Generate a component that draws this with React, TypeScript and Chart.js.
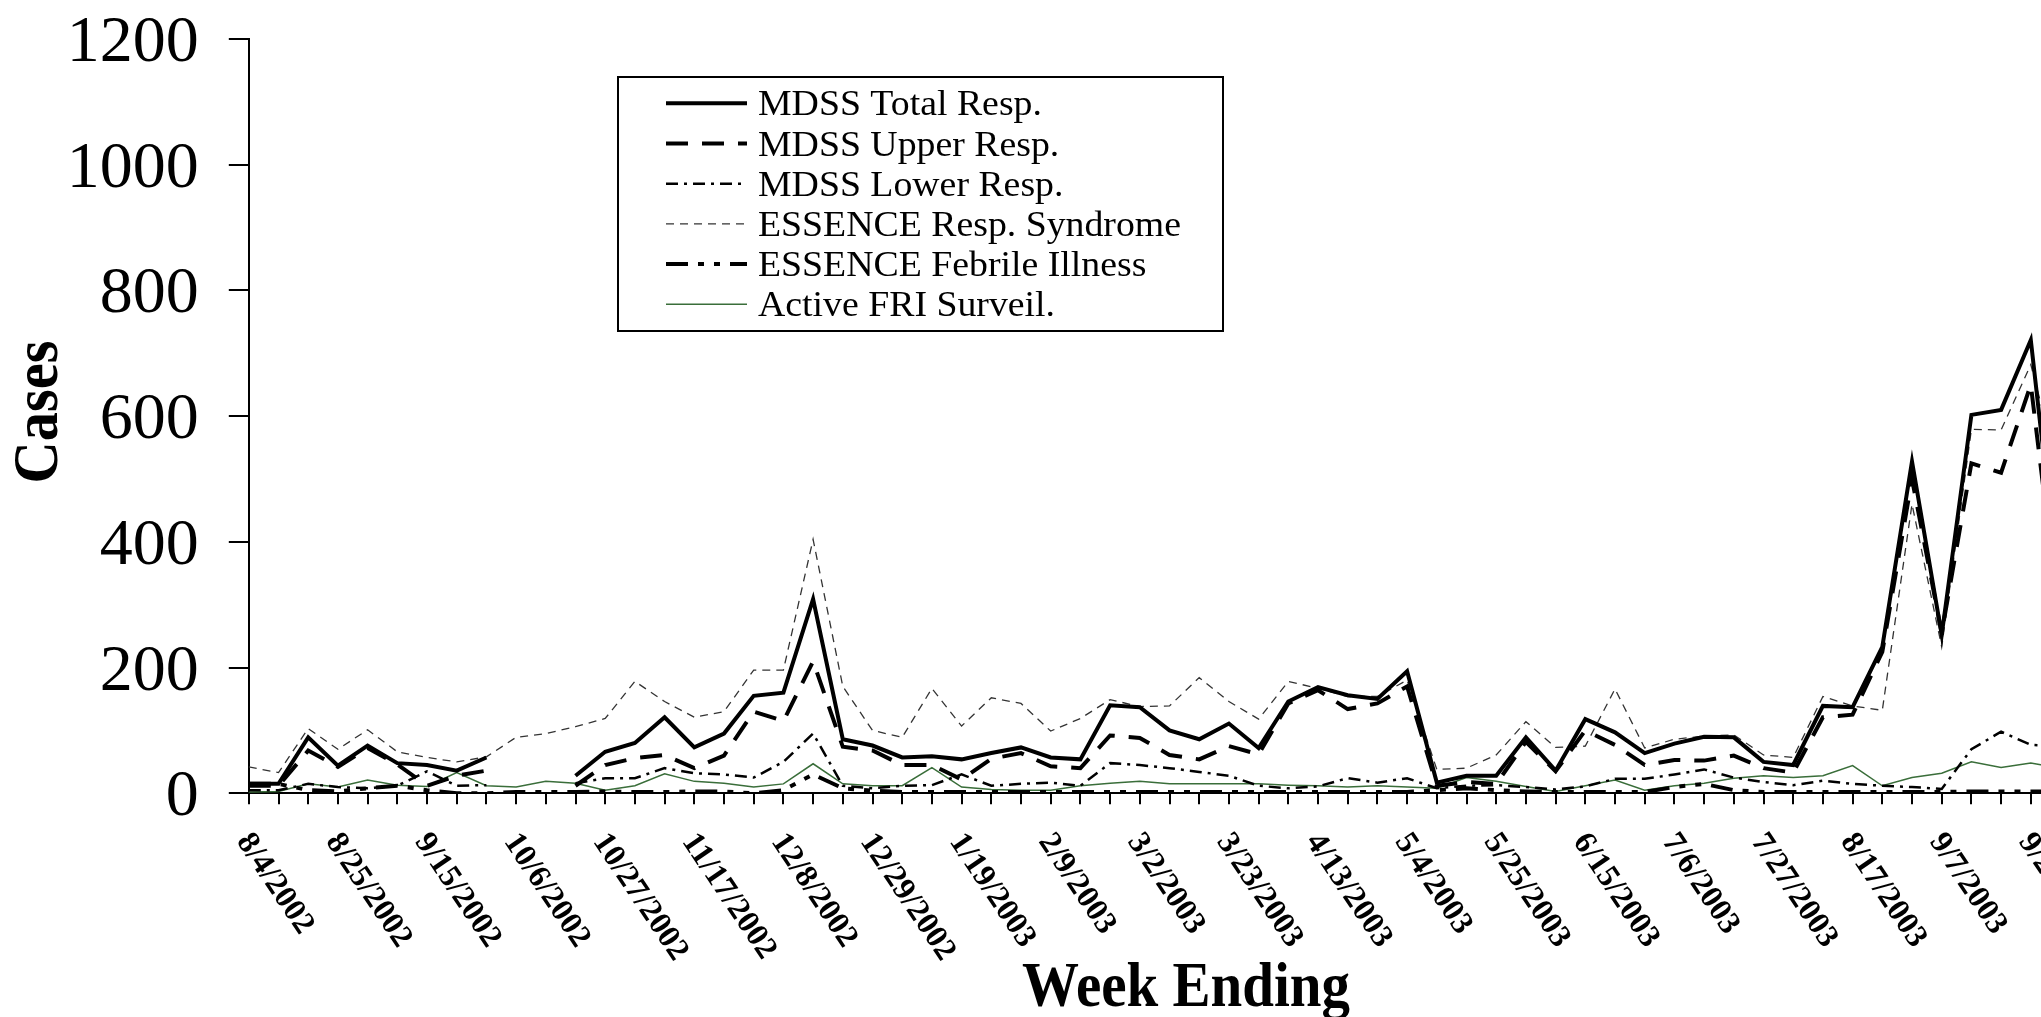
import React, { useEffect, useRef } from 'react';
import { Chart, registerables } from 'chart.js';

Chart.register(...registerables);

const weekLabels = [
  '8/4/2002', '8/11/2002', '8/18/2002', '8/25/2002', '9/1/2002', '9/8/2002', '9/15/2002', '9/22/2002',
  '9/29/2002', '10/6/2002', '10/13/2002', '10/20/2002', '10/27/2002', '11/3/2002', '11/10/2002', '11/17/2002',
  '11/24/2002', '12/1/2002', '12/8/2002', '12/15/2002', '12/22/2002', '12/29/2002', '1/5/2003', '1/12/2003',
  '1/19/2003', '1/26/2003', '2/2/2003', '2/9/2003', '2/16/2003', '2/23/2003', '3/2/2003', '3/9/2003',
  '3/16/2003', '3/23/2003', '3/30/2003', '4/6/2003', '4/13/2003', '4/20/2003', '4/27/2003', '5/4/2003',
  '5/11/2003', '5/18/2003', '5/25/2003', '6/1/2003', '6/8/2003', '6/15/2003', '6/22/2003', '6/29/2003',
  '7/6/2003', '7/13/2003', '7/20/2003', '7/27/2003', '8/3/2003', '8/10/2003', '8/17/2003', '8/24/2003',
  '8/31/2003', '9/7/2003', '9/14/2003', '9/21/2003', '9/28/2003', '10/5/2003',
];

const mdssTotal = [
  15, 15, 89, 44, 76, 48, 45, 36, 57, null, null, 28, 66, 80, 121, 73,
  95, 155, 160, 309, 86, 76, 57, 59, 54, 64, 73, 57, 54, 140, 137, 100,
  86, 111, 72, 146, 169, 156, 150, 194, 17, 28, 28, 89, 36, 118, 97, 64,
  79, 90, 89, 50, 45, 139, 137, 233, 528, 252, 602, 610, 721, 300,
];

const mdssUpper = [
  12, 12, 68, 42, 72, 46, 12, 28, 36, null, null, 12, 45, 56, 61, 40,
  60, 130, 115, 210, 74, 68, 45, 45, 22, 55, 64, 43, 40, 92, 88, 61,
  54, 75, 62, 143, 164, 134, 143, 170, 12, 18, 15, 82, 35, 100, 77, 45,
  53, 52, 60, 40, 33, 121, 125, 225, 500, 255, 525, 510, 650, 260,
];

const mdssLower = [
  5, 5, 15, 10, 8, 12, 35, 12, 13, null, null, 16, 24, 24, 40, 32,
  30, 25, 50, 95, 12, 8, 12, 13, 30, 12, 15, 17, 12, 48, 45, 40,
  34, 28, 12, 8, 11, 24, 17, 24, 8, 12, 13, 10, 6, 11, 23, 23,
  30, 38, 25, 18, 13, 20, 15, 12, 10, 7, 70, 98, 77, 75,
];

const essenceResp = [
  42, 33, 103, 70, 101, 66, 57, 50, 58, 89, 95, 106, 119, 178, 146, 121,
  130, 196, 196, 404, 170, 100, 89, 167, 107, 152, 143, 99, 119, 149, 138, 139,
  184, 146, 118, 178, 167, 154, 154, 180, 38, 40, 61, 114, 73, 75, 166, 72,
  86, 91, 93, 61, 57, 154, 139, 132, 460, 233, 579, 578, 682, 500,
];

const essenceFebrile = [
  15, 15, 5, 3, 8, 12, 5, 0, 0, 2, 2, 2, 3, 2, 2, 3,
  3, 0, 5, 30, 8, 4, 2, 2, 2, 2, 2, 2, 2, 2, 2, 2,
  2, 2, 2, 2, 2, 2, 2, 2, 5, 8, 5, 3, 2, 2, 2, 2,
  10, 15, 5, 2, 2, 2, 2, 2, 2, 2, 3, 3, 3, 3,
];

const activeFri = [
  2, 3, 15, 10, 21, 13, 11, 33, 12, 10, 19, 16, 5, 12, 31, 19,
  16, 10, 15, 47, 15, 12, 12, 41, 10, 6, 5, 5, 12, 16, 19, 15,
  15, 15, 15, 13, 12, 10, 12, 10, 8, 25, 19, 11, 3, 12, 21, 5,
  12, 16, 24, 28, 25, 28, 44, 12, 25, 32, 50, 41, 48, 40,
];

const yTicks = [0, 200, 400, 600, 800, 1000, 1200];

const SERIF = '"Liberation Serif", "Times New Roman", serif';

type Series = { label: string; data: (number | null)[]; color: string; width: number; dash: number[] };

const SERIES: Series[] = [
  { label: 'MDSS Total Resp.', data: mdssTotal, color: '#000000', width: 4, dash: [] },
  { label: 'MDSS Upper Resp.', data: mdssUpper, color: '#000000', width: 4, dash: [22, 14] },
  { label: 'MDSS Lower Resp.', data: mdssLower, color: '#000000', width: 2.5, dash: [12, 6, 3, 6] },
  { label: 'ESSENCE Resp. Syndrome', data: essenceResp, color: '#333333', width: 1.3, dash: [8, 6] },
  { label: 'ESSENCE Febrile Illness', data: essenceFebrile, color: '#000000', width: 4, dash: [22, 10, 6, 10, 6, 10] },
  { label: 'Active FRI Surveil.', data: activeFri, color: '#3a6e3a', width: 1.5, dash: [] },
];

const CANVAS_W = 2100;
const CANVAS_H = 1017;
const AREA_LEFT = 248.8;
const AREA_TOP = 39;
const AREA_BOTTOM = 793.3;
const STEP = 29.7;

export default function App() {
  const ref = useRef<HTMLCanvasElement>(null);

  useEffect(() => {
    document.body.style.margin = '0';
    const canvas = ref.current;
    if (!canvas) return;

    const areaRight = AREA_LEFT + STEP * (weekLabels.length - 1);

    const overlay = {
      id: 'overlay',
      afterDraw(chart: any) {
        const ctx: CanvasRenderingContext2D = chart.ctx;
        const xs = chart.scales.x;
        const ys = chart.scales.y;
        const area = chart.chartArea;
        ctx.save();
        ctx.fillStyle = '#000';

        // y tick labels
        ctx.font = `66px ${SERIF}`;
        ctx.textAlign = 'right';
        ctx.textBaseline = 'alphabetic';
        for (const v of yTicks) {
          const y = ys.getPixelForValue(v);
          ctx.fillText(String(v), area.left - 50, y + 22);
        }

        // rotated week labels
        ctx.font = `bold 32px ${SERIF}`;
        ctx.textAlign = 'left';
        ctx.textBaseline = 'top';
        for (let i = 0; i < weekLabels.length; i += 3) {
          const x = xs.getPixelForValue(i);
          ctx.save();
          ctx.translate(x + 7.4, area.bottom + 34.5);
          ctx.rotate((56 * Math.PI) / 180);
          ctx.fillText(weekLabels[i], 0, 0);
          ctx.restore();
        }

        // axis titles
        ctx.font = `bold 64px ${SERIF}`;
        ctx.textAlign = 'center';
        ctx.textBaseline = 'alphabetic';
        const wt = 'Week Ending';
        const ww = ctx.measureText(wt).width;
        ctx.save();
        ctx.translate(1186, 1006);
        ctx.scale(328 / ww, 1);
        ctx.fillText(wt, 0, 0);
        ctx.restore();

        const ct = 'Cases';
        const cw = ctx.measureText(ct).width;
        ctx.save();
        ctx.translate(57, 412);
        ctx.rotate(-Math.PI / 2);
        ctx.scale(143 / cw, 1);
        ctx.fillText(ct, 0, 0);
        ctx.restore();

        // legend box
        const bx = 617, by = 76, bw = 607, bh = 256;
        ctx.fillStyle = '#fff';
        ctx.fillRect(bx, by, bw, bh);
        ctx.lineWidth = 2;
        ctx.strokeStyle = '#000';
        ctx.setLineDash([]);
        ctx.strokeRect(bx + 1, by + 1, bw - 2, bh - 2);

        ctx.font = `36px ${SERIF}`;
        ctx.textAlign = 'left';
        ctx.textBaseline = 'alphabetic';
        const longest = ctx.measureText('ESSENCE Resp. Syndrome').width;
        const sx = 423 / longest;
        SERIES.forEach((s, r) => {
          const y = 103.3 + r * 40.2;
          ctx.save();
          ctx.beginPath();
          ctx.setLineDash(s.dash);
          ctx.lineWidth = s.width;
          ctx.strokeStyle = s.color;
          ctx.moveTo(666, y);
          ctx.lineTo(747, y);
          ctx.stroke();
          ctx.restore();
          ctx.save();
          ctx.fillStyle = '#000';
          ctx.translate(758, y + 12);
          ctx.scale(sx, 1);
          ctx.fillText(s.label, 0, 0);
          ctx.restore();
        });

        ctx.restore();
      },
    };

    const chart = new Chart(canvas, {
      type: 'line',
      data: {
        labels: weekLabels,
        datasets: SERIES.map((s) => ({
          label: s.label,
          data: s.data,
          borderColor: s.color,
          backgroundColor: s.color,
          borderWidth: s.width,
          borderDash: s.dash,
          pointRadius: 0,
          pointHoverRadius: 0,
          tension: 0,
          fill: false,
          spanGaps: false,
        })),
      },
      options: {
        animation: false,
        responsive: false,
        maintainAspectRatio: false,
        events: [],
        layout: {
          padding: { left: 0, top: AREA_TOP, right: CANVAS_W - areaRight, bottom: 0 },
        },
        plugins: {
          legend: { display: false },
          tooltip: { enabled: false },
          title: { display: false },
        },
        scales: {
          x: {
            type: 'category',
            offset: false,
            grid: {
              display: true,
              drawOnChartArea: false,
              drawTicks: true,
              tickLength: 11,
              lineWidth: 2,
              color: '#000',
            },
            border: { display: true, color: '#000', width: 2 },
            ticks: { display: false, autoSkip: false },
            afterFit: (scale: any) => {
              scale.height = CANVAS_H - AREA_BOTTOM;
            },
          },
          y: {
            min: 0,
            max: 1200,
            afterBuildTicks: (scale: any) => {
              scale.ticks = yTicks.map((v) => ({ value: v }));
            },
            grid: {
              display: true,
              drawOnChartArea: false,
              drawTicks: true,
              tickLength: 20,
              lineWidth: 2,
              color: '#000',
            },
            border: { display: true, color: '#000', width: 2 },
            ticks: { display: false },
            afterFit: (scale: any) => {
              scale.width = AREA_LEFT;
            },
          },
        },
      },
      plugins: [overlay],
    });

    return () => chart.destroy();
  }, []);

  return (
    <div
      style={{
        position: 'fixed',
        left: 0,
        top: 0,
        width: 2041,
        height: 1017,
        overflow: 'hidden',
        background: '#fff',
      }}
    >
      <canvas ref={ref} width={CANVAS_W} height={CANVAS_H} style={{ width: CANVAS_W, height: CANVAS_H, display: 'block' }} />
    </div>
  );
}
